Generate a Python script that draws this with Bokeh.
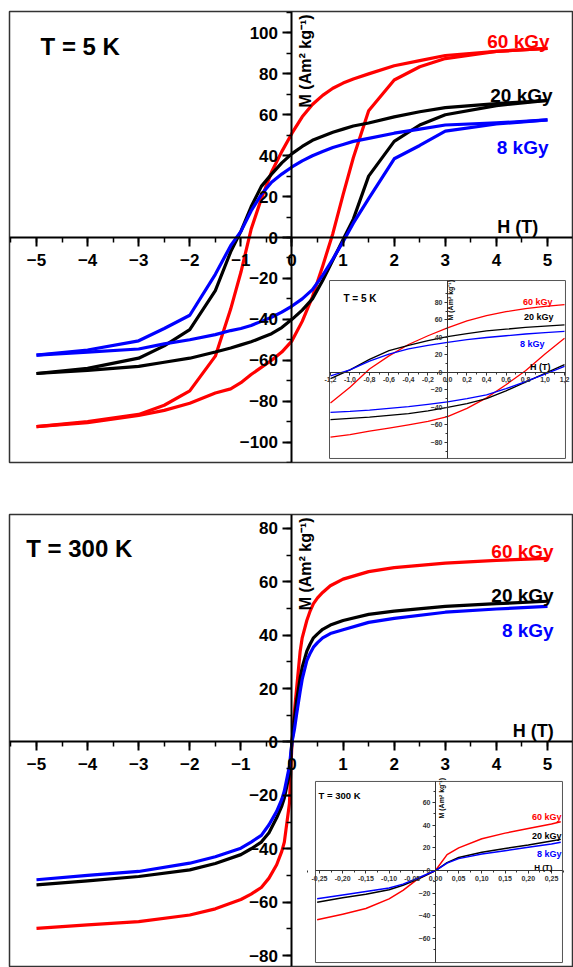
import numpy as np
from bokeh.plotting import figure
from bokeh.models import Range1d, LinearAxis, FixedTicker, Label, CustomJSTickFormatter
from bokeh.layouts import column
from bokeh.embed import file_html
from bokeh.resources import INLINE

# ---------------- data: T = 5 K hysteresis loops ----------------
# descending branch (H from +5 to -5)
H5_DOWN = [5, 4, 3, 2.5, 2, 1.5, 1.2, 1.0, 0.8, 0.6, 0.4, 0.2, 0, -0.2, -0.4, -0.6, -0.8, -1.0, -1.2, -1.5, -2, -2.5, -3, -4, -5]
M5_60_DOWN = [92.5, 91, 89, 86.5, 84, 80, 77.5, 75.5, 73, 69.5, 65, 59, 51, 42, 32, 19, 4, -17, -35, -58, -75, -82, -86.5, -90, -92.5]
M5_20_DOWN = [67, 65.5, 63.5, 61.5, 59, 56, 54.5, 53, 51.5, 49.5, 47.5, 44.5, 41, 36.5, 31, 25, 15, 3, -7, -26, -45, -53, -59, -64, -66.5]
M5_8_DOWN = [57.5, 56, 55, 53, 51, 48.5, 47, 45.5, 44, 42, 40, 37.5, 34.5, 31, 27, 21, 13, 3, -4, -18, -38, -44.5, -50.5, -55, -57.5]
# ascending branch (H from -5 to +5)
H5_UP = [-5, -4, -3, -2.5, -2, -1.5, -1.2, -1.0, -0.8, -0.6, -0.4, -0.2, 0, 0.2, 0.4, 0.6, 0.8, 1.0, 1.2, 1.5, 2, 2.5, 3, 4, 5]
M5_60_UP = [-92.5, -90.5, -87, -84.5, -81, -76, -74, -71, -67, -63.5, -60, -56, -50.5, -41, -29, -14, 2, 21, 39, 62, 77, 83.5, 87.5, 91, 92.5]
M5_20_UP = [-66.5, -65, -63, -61, -59, -56, -54, -52.5, -51, -49, -47, -44, -40, -35.5, -30, -21, -11, -1, 9, 30, 47, 55, 60, 64.5, 67]
M5_8_UP = [-57.5, -56, -54.5, -52, -50, -47.5, -45.5, -44.5, -43, -41, -39, -36.5, -33.5, -30, -25.5, -18.5, -10.5, -2, 7, 19, 38.5, 45, 52, 55.5, 57.5]

# ---------------- data: T = 300 K magnetisation ----------------
H300 = [-5, -4, -3, -2, -1.5, -1, -0.8, -0.6, -0.45, -0.3, -0.2, -0.15, -0.05, 0,
        0.05, 0.09, 0.16, 0.2, 0.29, 0.35, 0.42, 0.5, 0.6, 0.75, 1.0, 1.5, 2, 3, 4, 5]
M300_60 = [-69.8, -68.5, -67.3, -64.8, -62.5, -59, -57, -54.5, -51, -46, -41, -37.5, -23, 0,
           12, 20, 34, 39, 45.5, 48.8, 51.8, 54, 56, 58.5, 61, 63.8, 65.3, 67, 68, 68.8]
M300_20 = [-53.5, -52, -50.4, -47.9, -45.5, -42.2, -40, -37.5, -34, -28.4, -24, -21, -12, 0,
           9, 15.4, 24, 28, 34, 36.5, 39, 40.5, 42.2, 43.8, 45.5, 47.8, 49, 50.8, 51.8, 52.7]
M300_8 = [-51.6, -50, -48.5, -45.4, -43, -39.8, -37.5, -35, -31, -26, -21.5, -18.4, -9, 0,
          5, 10.4, 19, 23.5, 30.5, 33, 35.5, 37.2, 39, 40.6, 42, 44.8, 46.3, 48.6, 49.8, 50.8]
# low-field detail (inset)
H300_IN = [-0.255, -0.2, -0.15, -0.1, -0.07, -0.04, 0, 0.025, 0.05, 0.1, 0.15, 0.2, 0.25, 0.27]
M300_60_IN = [-43.5, -38.5, -33.5, -25, -17.5, -8, 0, 14, 20, 28, 33, 37, 41, 43]
M300_20_IN = [-28, -24, -21, -17, -13, -8, 0, 7, 11.5, 16.2, 19.5, 22.5, 26, 27.5]
M300_8_IN = [-25, -21.5, -18.5, -15.5, -12, -7, 0, 6.5, 10.5, 14.5, 17.5, 20.5, 23.5, 25]

SERIES = ["60 kGy", "20 kGy", "8 kGy"]
X_TICKS = [-5, -4, -3, -2, -1, 0, 1, 2, 3, 4, 5]

FONT = "Liberation Sans"
RED, BLACK, BLUE = "#ff0000", "#000000", "#0000ff"


def style_main_axis(ax, standoff):
    ax.axis_line_width = 2
    ax.axis_line_color = "black"
    ax.major_tick_line_width = 2
    ax.minor_tick_line_width = 1.5
    ax.major_tick_in = 0
    ax.major_tick_out = 9
    ax.minor_tick_in = 0
    ax.minor_tick_out = 5
    ax.major_label_text_font = FONT
    ax.major_label_text_font_style = "bold"
    ax.major_label_text_font_size = "17px"
    ax.major_label_text_color = "black"
    ax.major_label_standoff = standoff


def make_panel(height, b_top, b_bottom, y0, y1, y_ticks, y_minor):
    p = figure(width=573, height=height, x_range=Range1d(-5.528, 5.489), y_range=Range1d(y0, y1),
               output_backend="svg", toolbar_location=None,
               min_border_left=9, min_border_right=1, min_border_top=b_top, min_border_bottom=b_bottom)
    p.grid.visible = False
    p.outline_line_color = "#333333"
    p.outline_line_width = 1.5
    p.background_fill_color = "white"
    p.border_fill_color = "white"
    xa = p.xaxis[0]
    ya = p.yaxis[0]
    xa.fixed_location = 0
    ya.fixed_location = 0
    xa.ticker = FixedTicker(ticks=X_TICKS, minor_ticks=list(np.arange(-5.5, 5.6, 0.5)))
    ya.ticker = FixedTicker(ticks=y_ticks, minor_ticks=y_minor)
    style_main_axis(xa, 7)
    style_main_axis(ya, 5)
    return p


def add_inset_axes(p, xb, yb, xticks, xminor, digits, yticks, yminor):
    fmt = CustomJSTickFormatter(args=dict(d=digits), code="""
        var s = tick.toFixed(d).replace('.', ',');
        if (Math.abs(tick) < 1e-9) { s = (0).toFixed(d).replace('.', ','); }
        return s;""")
    ixa = LinearAxis(x_range_name="ix", y_range_name="iy", fixed_location=0, bounds=xb,
                     ticker=FixedTicker(ticks=xticks, minor_ticks=xminor), formatter=fmt)
    iya = LinearAxis(x_range_name="ix", y_range_name="iy", fixed_location=0, bounds=yb,
                     ticker=FixedTicker(ticks=yticks, minor_ticks=yminor))
    for ax in (ixa, iya):
        ax.axis_line_width = 1
        ax.axis_line_color = "#333333"
        ax.major_tick_line_width = 1
        ax.minor_tick_line_width = 1
        ax.major_tick_line_color = "#333333"
        ax.minor_tick_line_color = "#333333"
        ax.major_tick_in = 0
        ax.major_tick_out = 3
        ax.minor_tick_in = 0
        ax.minor_tick_out = 2
        ax.major_label_text_font = FONT
        ax.major_label_text_font_style = "bold"
        ax.major_label_text_font_size = "7px"
        ax.major_label_text_color = "#333333"
        ax.major_label_standoff = 2
    p.add_layout(ixa, "below")
    p.add_layout(iya, "left")


def lbl(p, x, y, text, size, color="black", align="right", angle=0.0, baseline="alphabetic", inset=False):
    kw = dict(x_range_name="ix", y_range_name="iy") if inset else {}
    p.add_layout(Label(x=x, y=y, text=text, text_font=FONT, text_font_style="bold",
                       text_font_size=size, text_color=color, text_align=align,
                       text_baseline=baseline, angle=angle, **kw))


COLORS = [RED, BLACK, BLUE]

# ======================= top panel: T = 5 K =======================
p1 = make_panel(488, 11, 26, -110.0, 110.5,
                list(range(-100, 101, 20)), list(range(-110, 111, 10)))
p1.extra_x_ranges = {"ix": Range1d(-4.492, 1.282)}
p1.extra_y_ranges = {"iy": Range1d(-102.9, 412.6)}

downs = [M5_60_DOWN, M5_20_DOWN, M5_8_DOWN]
ups = [M5_60_UP, M5_20_UP, M5_8_UP]
for c, md, mu in zip(COLORS, downs, ups):
    p1.line(H5_DOWN, md, line_color=c, line_width=3.2, line_join="round")
    p1.line(H5_UP, mu, line_color=c, line_width=3.2, line_join="round")

lbl(p1, -4.92, 93.4, "T = 5 K", "24px", align="left")
lbl(p1, 5.04, 95.8, SERIES[0], "19px", RED)
lbl(p1, 5.10, 69.4, SERIES[1], "19px", BLACK)
lbl(p1, 5.02, 44.0, SERIES[2], "19px", BLUE)
lbl(p1, 4.82, 4.9, "H (T)", "18px")
lbl(p1, 0.27, 63.6, "M (Am² kg⁻¹)", "16px", align="left", angle=np.pi / 2, baseline="middle")

# inset (5 K, low field)
p1.quad(left=-1.21, right=1.21, bottom=-98.3, top=105.1, fill_color="white",
        line_color="#555555", line_width=1, x_range_name="ix", y_range_name="iy")
hd = np.array(H5_DOWN)
hu = np.array(H5_UP)
kd = np.abs(hd) <= 1.2 + 1e-9
ku = np.abs(hu) <= 1.2 + 1e-9
for c, md, mu in zip(COLORS, downs, ups):
    p1.line(hd[kd], np.array(md)[kd], line_color=c, line_width=1.3, line_join="round",
            x_range_name="ix", y_range_name="iy")
    p1.line(hu[ku], np.array(mu)[ku], line_color=c, line_width=1.3, line_join="round",
            x_range_name="ix", y_range_name="iy")
add_inset_axes(p1, (-1.21, 1.21), (-98.3, 105.1),
               [round(v, 1) for v in np.arange(-1.2, 1.21, 0.2)],
               [round(v, 1) for v in np.arange(-1.1, 1.2, 0.2)], 1,
               list(range(-80, 81, 20)), list(range(-90, 101, 20)))
lbl(p1, -1.067, 84.6, "T = 5 K", "10px", align="left", inset=True)
lbl(p1, 1.077, 80.0, SERIES[0], "9px", RED, inset=True)
lbl(p1, 1.087, 62.9, SERIES[1], "9px", BLACK, inset=True)
lbl(p1, 0.995, 33.1, SERIES[2], "9px", BLUE, inset=True)
lbl(p1, 1.056, 5.7, "H (T)", "9px", inset=True)
lbl(p1, 0.035, 59.4, "M (Am² kg⁻¹)", "7px", align="left", angle=np.pi / 2, baseline="middle", inset=True)

# ======================= bottom panel: T = 300 K =======================
p2 = make_panel(479, 26, 1, -84.1, 85.2,
                list(range(-80, 81, 20)), list(range(-90, 91, 10)))
p2.extra_x_ranges = {"ix": Range1d(-0.918, 0.2953)}
p2.extra_y_ranges = {"iy": Range1d(-84.7, 314.2)}

for c, m in zip(COLORS, [M300_60, M300_20, M300_8]):
    p2.line(H300, m, line_color=c, line_width=3.2, line_join="round")

lbl(p2, -5.2, 72.5, "T = 300 K", "24px", align="left")
lbl(p2, 5.12, 71.5, SERIES[0], "19px", RED)
lbl(p2, 5.12, 54.9, SERIES[1], "19px", BLACK)
lbl(p2, 5.12, 41.8, SERIES[2], "19px", BLUE)
lbl(p2, 5.12, 4.0, "H (T)", "18px")
lbl(p2, 0.27, 49.3, "M (Am² kg⁻¹)", "16px", align="left", angle=np.pi / 2, baseline="middle")

p2.quad(left=-0.2586, right=0.2737, bottom=-81.2, top=78.6, fill_color="white",
        line_color="#555555", line_width=1, x_range_name="ix", y_range_name="iy")
for c, m in zip(COLORS, [M300_60_IN, M300_20_IN, M300_8_IN]):
    p2.line(H300_IN, m, line_color=c, line_width=1.5, line_join="round",
            x_range_name="ix", y_range_name="iy")
add_inset_axes(p2, (-0.2586, 0.2737), (-81.2, 78.6),
               [round(v, 2) for v in np.arange(-0.25, 0.251, 0.05)],
               [round(v, 3) for v in np.arange(-0.275, 0.28, 0.05)], 2,
               list(range(-60, 61, 20)), list(range(-70, 71, 20)))
lbl(p2, -0.252, 66.2, "T = 300 K", "9.5px", align="left", inset=True)
lbl(p2, 0.2716, 46.8, SERIES[0], "9px", RED, inset=True)
lbl(p2, 0.2716, 30.9, SERIES[1], "9px", BLACK, inset=True)
lbl(p2, 0.2716, 15.0, SERIES[2], "9px", BLUE, inset=True)
lbl(p2, 0.252, 2.6, "H (T)", "8px", inset=True)
lbl(p2, 0.012, 45.9, "M (Am² kg⁻¹)", "7px", align="left", angle=np.pi / 2, baseline="middle", inset=True)

layout = column(p1, p2, spacing=0)
open("out.html", "w").write(file_html(layout, INLINE))
